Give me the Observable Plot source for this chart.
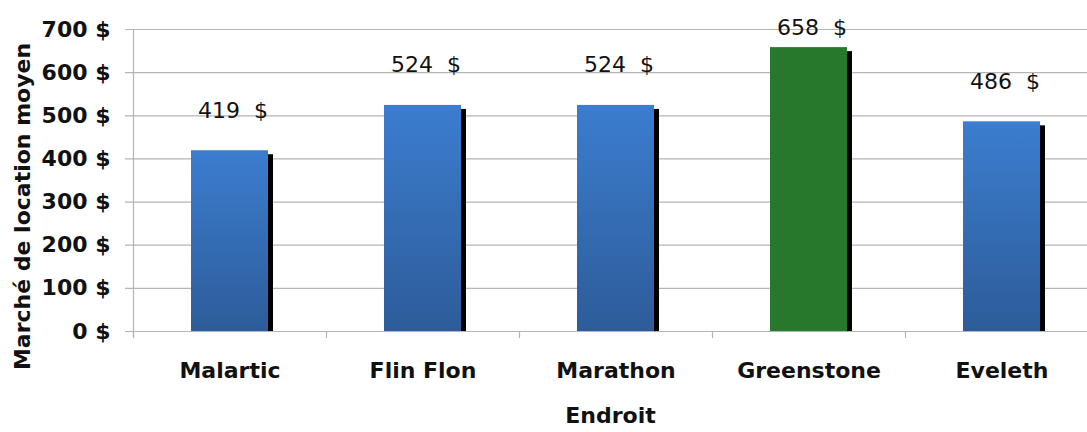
<!DOCTYPE html>
<html>
<head>
<meta charset="utf-8">
<script src="https://cdn.jsdelivr.net/npm/d3@7"></script>
<script src="https://cdn.jsdelivr.net/npm/@observablehq/plot@0.6"></script>
<style>
  html, body { margin: 0; padding: 0; background: #fff; }
  #chart svg { display: block; font-family: "DejaVu Sans", sans-serif; white-space: pre; }
</style>
</head>
<body>
<div id="chart"></div>
<script>
// Loyer moyen du marché par endroit
const places = ["Malartic", "Flin Flon", "Marathon", "Greenstone", "Eveleth"];
const rents = [419, 524, 524, 658, 486];
const highlighted = "Greenstone";
const yTicks = [0, 100, 200, 300, 400, 500, 600, 700];
const yTitle = "Marché de location moyen";
const xTitle = "Endroit";

const rows = places.map((place, i) => ({place, rent: rents[i]}));
const money = d => `${d} $`;

const W = 1087, H = 432;
const xRange = [133, 1098];
const step = (xRange[1] - xRange[0]) / places.length;
const grid = "#b5b5b5";

const gradient = () => {
  const defs = d3.create("svg:defs");
  const g = defs.append("linearGradient")
    .attr("id", "barBlue").attr("x1", 0).attr("y1", 0).attr("x2", 0).attr("y2", 1);
  g.append("stop").attr("offset", "0%").attr("stop-color", "#3c7dcf");
  g.append("stop").attr("offset", "100%").attr("stop-color", "#2d5c99");
  return defs.node();
};

const label = d => `${d.rent}  $`;
const isTop = d => d.place === highlighted;

const chart = Plot.plot({
  width: W,
  height: H,
  marginLeft: 133,
  marginRight: 0,
  marginTop: 29,
  marginBottom: 101,
  x: {domain: places, range: xRange, padding: 0.6, paddingOuter: 0.3, axis: null},
  y: {domain: [0, 700], axis: null},
  marks: [
    gradient,
    // horizontal grid lines, extended left to form the tick marks
    Plot.ruleY(yTicks, {y: d => d, stroke: grid, strokeWidth: 1.2, insetLeft: -8}),
    // category separators below the baseline
    Plot.ruleX(places, {x: d => d, dx: -step / 2, y1: 0, y2: 0, insetBottom: -7, stroke: grid, strokeWidth: 1.2}),
    // vertical axis line
    Plot.ruleX([places[0]], {x: d => d, dx: -step / 2, insetBottom: -7, stroke: grid, strokeWidth: 1.2}),
    // drop shadows
    Plot.barY(rows, {x: "place", y: "rent", fill: "black", dx: 5, insetTop: 4}),
    Plot.barY(rows.filter(d => !isTop(d)), {x: "place", y: "rent", fill: "url(#barBlue)"}),
    Plot.barY(rows.filter(isTop), {x: "place", y: "rent", fill: "#27782c"}),
    Plot.text(rows.filter(d => !isTop(d)), {
      x: "place", y: "rent", text: label,
      dy: -40, dx: 3, lineAnchor: "middle", fontSize: 22, fill: "#111"
    }),
    // the tallest bar's label sits closer so it stays inside the chart
    Plot.text(rows.filter(isTop), {
      x: "place", y: "rent", text: label,
      dy: -20, dx: 3, lineAnchor: "middle", fontSize: 22, fill: "#111"
    }),
    Plot.axisY(yTicks, {
      tickSize: 0, tickPadding: 23, tickFormat: money, label: null,
      fontSize: 22, fontWeight: "bold", fill: "#111"
    }),
    Plot.axisX({
      tickSize: 0, tickPadding: 31, lineAnchor: "top",
      fontSize: 22, fontWeight: "bold", fill: "#111", label: null
    }),
    Plot.text([yTitle], {
      frameAnchor: "left", textAnchor: "middle", rotate: -90, dx: -111, dy: 26,
      fontSize: 22, fontWeight: "bold", fill: "#111"
    }),
    Plot.text([xTitle], {
      frameAnchor: "bottom", dy: 91,
      fontSize: 22, fontWeight: "bold", fill: "#111"
    })
  ]
});

document.getElementById("chart").appendChild(chart);
</script>
</body>
</html>
